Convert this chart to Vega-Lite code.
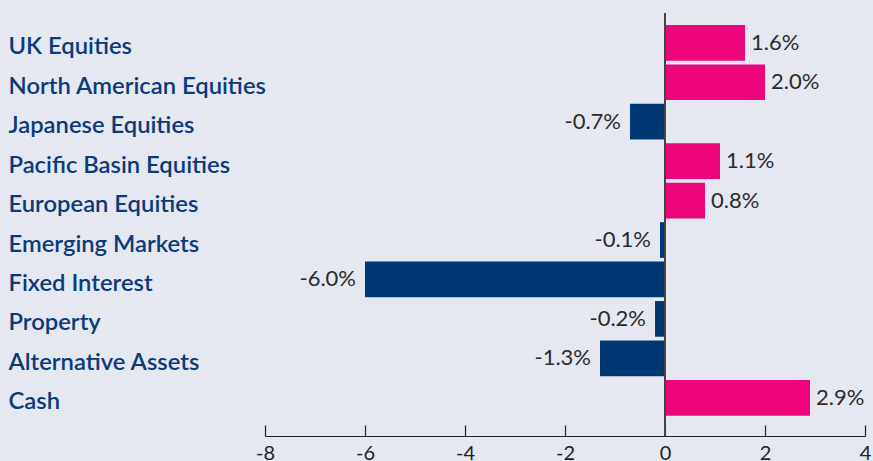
{
  "$schema": "https://vega.github.io/schema/vega-lite/v6.json",
  "autosize": "none",
  "width": 600,
  "height": 423,
  "padding": {"left": 265, "top": 13, "right": 8, "bottom": 25},
  "background": "#e5e7f1",
  "config": {"view": {"stroke": null}, "font": "Lato"},
  "data": {"values": [
    {"category": "UK Equities", "value": 1.6, "label": "1.6%"},
    {"category": "North American Equities", "value": 2.0, "label": "2.0%"},
    {"category": "Japanese Equities", "value": -0.7, "label": "-0.7%"},
    {"category": "Pacific Basin Equities", "value": 1.1, "label": "1.1%"},
    {"category": "European Equities", "value": 0.8, "label": "0.8%"},
    {"category": "Emerging Markets", "value": -0.1, "label": "-0.1%"},
    {"category": "Fixed Interest", "value": -6.0, "label": "-6.0%"},
    {"category": "Property", "value": -0.2, "label": "-0.2%"},
    {"category": "Alternative Assets", "value": -1.3, "label": "-1.3%"},
    {"category": "Cash", "value": 2.9, "label": "2.9%"}
  ]},
  "encoding": {
    "y": {
      "field": "category", "type": "nominal", "sort": null,
      "scale": {"paddingInner": 0.095, "paddingOuter": 0.41, "align": 0.37},
      "axis": {
        "title": null, "ticks": false, "domain": false,
        "labelAlign": "left", "labelPadding": 257, "labelLimit": 400,
        "labelFont": "Lato", "labelFontSize": 23.8, "labelFontWeight": 600,
        "labelColor": "#0a3b7a", "labelOffset": 4.5
      }
    }
  },
  "layer": [
    {
      "mark": {"type": "bar"},
      "encoding": {
        "x": {
          "field": "value", "type": "quantitative",
          "scale": {"domain": [-8, 4], "nice": false, "zero": false},
          "axis": {
            "title": null, "values": [-8, -6, -4, -2, 0, 2, 4], "grid": false,
            "labelExpr": "'' + datum.value",
            "domainColor": "#222222", "domainWidth": 1.2,
            "tickColor": "#222222", "tickWidth": 1.2, "tickSize": -11,
            "labelPadding": 18, "labelFont": "Lato", "labelFontSize": 20,
            "labelColor": "#222222", "labelFlush": false
          }
        },
        "color": {"condition": {"test": "datum.value > 0", "value": "#ec057b"}, "value": "#003876"}
      }
    },
    {
      "mark": {"type": "rule", "color": "#444444", "strokeWidth": 1.5},
      "encoding": {"x": {"datum": 0, "type": "quantitative"}, "y": null}
    },
    {
      "transform": [{"filter": "datum.value > 0"}],
      "mark": {"type": "text", "align": "left", "baseline": "middle", "dx": 6, "font": "Lato", "fontSize": 22, "color": "#2b2b2b"},
      "encoding": {"x": {"field": "value", "type": "quantitative"}, "text": {"field": "label"}}
    },
    {
      "transform": [{"filter": "datum.value <= 0"}],
      "mark": {"type": "text", "align": "right", "baseline": "middle", "dx": -9, "font": "Lato", "fontSize": 22, "color": "#2b2b2b"},
      "encoding": {"x": {"field": "value", "type": "quantitative"}, "text": {"field": "label"}}
    }
  ]
}
